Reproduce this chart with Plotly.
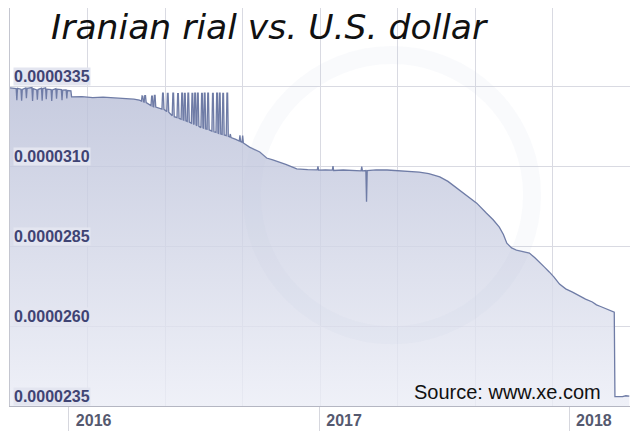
import plotly.graph_objects as go

# ---- data ----
dates = [
    "2015-10-07", "2015-10-16", "2015-10-17", "2015-10-18", "2015-10-23", "2015-10-24", "2015-10-25",
    "2015-10-30", "2015-10-31", "2015-11-01", "2015-11-08", "2015-11-09", "2015-11-10",
    "2015-11-15", "2015-11-16", "2015-11-17", "2015-11-22", "2015-11-23", "2015-11-24",
    "2015-11-28", "2015-11-29", "2015-11-30", "2015-12-06", "2015-12-07", "2015-12-08",
    "2015-12-13", "2015-12-14", "2015-12-15", "2015-12-21", "2015-12-22", "2015-12-23",
    "2015-12-28", "2015-12-29", "2015-12-30", "2016-01-04", "2016-01-05", "2016-01-20",
    "2016-02-05", "2016-02-20", "2016-03-05", "2016-03-22", "2016-04-05", "2016-04-13",
    "2016-04-16", "2016-04-17", "2016-04-18", "2016-04-19",
    "2016-04-20", "2016-04-21", "2016-04-22", "2016-04-23",
    "2016-04-30", "2016-05-01", "2016-05-02", "2016-05-03",
    "2016-05-04", "2016-05-05", "2016-05-06", "2016-05-07",
    "2016-05-16", "2016-05-17", "2016-05-18", "2016-05-19",
    "2016-05-23", "2016-05-24", "2016-05-25", "2016-05-26",
    "2016-05-31", "2016-06-01", "2016-06-02", "2016-06-03",
    "2016-06-07", "2016-06-08", "2016-06-09", "2016-06-10",
    "2016-06-13", "2016-06-14", "2016-06-15", "2016-06-16",
    "2016-06-17", "2016-06-18", "2016-06-19", "2016-06-20",
    "2016-06-22", "2016-06-23", "2016-06-24", "2016-06-25",
    "2016-06-28", "2016-06-29", "2016-06-30", "2016-07-01",
    "2016-07-02", "2016-07-03", "2016-07-04", "2016-07-05",
    "2016-07-06", "2016-07-07", "2016-07-08", "2016-07-09",
    "2016-07-12", "2016-07-13", "2016-07-14", "2016-07-15",
    "2016-07-16", "2016-07-17", "2016-07-18", "2016-07-19",
    "2016-07-21", "2016-07-22", "2016-07-23", "2016-07-24",
    "2016-07-28", "2016-07-29", "2016-07-30", "2016-07-31",
    "2016-08-03", "2016-08-04", "2016-08-05", "2016-08-06",
    "2016-08-07", "2016-08-08", "2016-08-09", "2016-08-10",
    "2016-08-12", "2016-08-13", "2016-08-14", "2016-08-15",
    "2016-08-18", "2016-08-19", "2016-08-20", "2016-08-21",
    "2016-08-23", "2016-08-24", "2016-08-25", "2016-09-01", "2016-09-06", "2016-09-07",
    "2016-09-08", "2016-09-10", "2016-09-11", "2016-09-12", "2016-09-21", "2016-10-06",
    "2016-10-16", "2016-10-25", "2016-11-04", "2016-11-13", "2016-11-22", "2016-11-29",
    "2016-12-15", "2016-12-29", "2016-12-30", "2016-12-31", "2017-01-10", "2017-01-20",
    "2017-01-21", "2017-01-22", "2017-02-05", "2017-02-20", "2017-03-03", "2017-03-04",
    "2017-03-05", "2017-03-10", "2017-03-11", "2017-03-12", "2017-03-25", "2017-04-10",
    "2017-04-25", "2017-05-12", "2017-05-27", "2017-06-10", "2017-06-26", "2017-07-08",
    "2017-07-21", "2017-08-05", "2017-08-19", "2017-09-02", "2017-09-12", "2017-09-21",
    "2017-09-27", "2017-10-02", "2017-10-09", "2017-10-16", "2017-10-25", "2017-11-04",
    "2017-11-12", "2017-11-19", "2017-11-26", "2017-12-03", "2017-12-10", "2017-12-18",
    "2017-12-27", "2018-01-06", "2018-01-16", "2018-01-25", "2018-02-04", "2018-02-10",
    "2018-02-16", "2018-02-22", "2018-03-01", "2018-03-06", "2018-03-08", "2018-03-09",
    "2018-03-20", "2018-03-25", "2018-03-30",
]
rates = [
    3.344e-05, 3.342e-05, 3.306e-05, 3.343e-05, 3.340e-05, 3.304e-05, 3.339e-05,
    3.344e-05, 3.312e-05, 3.343e-05, 3.345e-05, 3.303e-05, 3.342e-05,
    3.338e-05, 3.307e-05, 3.339e-05, 3.343e-05, 3.304e-05, 3.342e-05,
    3.344e-05, 3.309e-05, 3.340e-05, 3.339e-05, 3.303e-05, 3.338e-05,
    3.342e-05, 3.310e-05, 3.340e-05, 3.339e-05, 3.306e-05, 3.337e-05,
    3.338e-05, 3.311e-05, 3.336e-05, 3.335e-05, 3.316e-05, 3.317e-05,
    3.314e-05, 3.315e-05, 3.313e-05, 3.312e-05, 3.309e-05, 3.306e-05,
    3.303e-05, 3.319e-05, 3.318e-05, 3.301e-05,
    3.300e-05, 3.320e-05, 3.320e-05, 3.298e-05,
    3.289e-05, 3.318e-05, 3.318e-05, 3.286e-05,
    3.285e-05, 3.321e-05, 3.321e-05, 3.284e-05,
    3.278e-05, 3.328e-05, 3.328e-05, 3.277e-05,
    3.270e-05, 3.327e-05, 3.327e-05, 3.268e-05,
    3.257e-05, 3.328e-05, 3.328e-05, 3.254e-05,
    3.251e-05, 3.326e-05, 3.326e-05, 3.249e-05,
    3.246e-05, 3.328e-05, 3.328e-05, 3.244e-05,
    3.243e-05, 3.327e-05, 3.327e-05, 3.241e-05,
    3.239e-05, 3.328e-05, 3.328e-05, 3.237e-05,
    3.234e-05, 3.327e-05, 3.327e-05, 3.232e-05,
    3.230e-05, 3.328e-05, 3.328e-05, 3.228e-05,
    3.226e-05, 3.328e-05, 3.328e-05, 3.224e-05,
    3.220e-05, 3.327e-05, 3.327e-05, 3.219e-05,
    3.218e-05, 3.328e-05, 3.328e-05, 3.216e-05,
    3.215e-05, 3.328e-05, 3.328e-05, 3.213e-05,
    3.209e-05, 3.327e-05, 3.327e-05, 3.207e-05,
    3.205e-05, 3.328e-05, 3.328e-05, 3.203e-05,
    3.202e-05, 3.328e-05, 3.328e-05, 3.200e-05,
    3.199e-05, 3.327e-05, 3.327e-05, 3.197e-05,
    3.195e-05, 3.328e-05, 3.328e-05, 3.193e-05,
    3.191e-05, 3.200e-05, 3.189e-05, 3.183e-05, 3.178e-05, 3.196e-05,
    3.176e-05, 3.174e-05, 3.195e-05, 3.172e-05, 3.159e-05, 3.144e-05,
    3.125e-05, 3.119e-05, 3.1125e-05, 3.105e-05, 3.097e-05, 3.091e-05,
    3.089e-05, 3.088e-05, 3.099e-05, 3.087e-05, 3.088e-05, 3.087e-05,
    3.100e-05, 3.086e-05, 3.0875e-05, 3.086e-05, 3.085e-05, 3.098e-05,
    3.085e-05, 3.086e-05, 2.988e-05, 3.086e-05, 3.088e-05, 3.0875e-05,
    3.086e-05, 3.084e-05, 3.081e-05, 3.076e-05, 3.066e-05, 3.052e-05,
    3.031e-05, 3.007e-05, 2.984e-05, 2.953e-05, 2.932e-05, 2.909e-05,
    2.886e-05, 2.859e-05, 2.844e-05, 2.8375e-05, 2.834e-05, 2.828e-05,
    2.813e-05, 2.797e-05, 2.784e-05, 2.769e-05, 2.753e-05, 2.731e-05,
    2.716e-05, 2.706e-05, 2.694e-05, 2.684e-05, 2.675e-05, 2.666e-05,
    2.661e-05, 2.656e-05, 2.649e-05, 2.644e-05, 2.643e-05, 2.379e-05,
    2.379e-05, 2.382e-05, 2.381e-05,
]

y_ticks = [0.0000235, 0.0000260, 0.0000285, 0.0000310, 0.0000335]
y_labels = ["0.0000235", "0.0000260", "0.0000285", "0.0000310", "0.0000335"]
x_ticks = ["2016-01-01", "2017-01-01", "2018-01-01"]
x_labels = ["2016", "2017", "2018"]
x_range = ["2015-10-07", "2018-03-31"]
y_range = [0.0000235, 0.000035938]
title_text = "Iranian rial vs. U.S. dollar"
source_text = "Source: www.xe.com"

# The page body has an 8 px default margin, so the figure is 632x432.
W, H = 632, 432

fig = go.Figure()

fig.add_trace(go.Scatter(
    x=dates, y=rates, mode="lines",
    line=dict(color="#6f7ca6", width=1.3),
    fill="tozeroy",
    fillgradient=dict(
        type="vertical",
        start=y_range[0], stop=0.0000335,
        colorscale=[[0, "rgba(235,237,246,0.8)"], [1, "rgba(184,190,215,0.8)"]],
    ),
    hoverinfo="skip", showlegend=False,
))
# helper trace to carry the evenly spaced vertical grid axis
fig.add_trace(go.Scatter(x=[0], y=[y_range[0]], xaxis="x2", mode="markers",
                         marker=dict(opacity=0), hoverinfo="skip", showlegend=False))

fig.update_layout(
    width=W, height=H,
    margin=dict(l=2, r=10, t=0, b=34, autoexpand=False),
    paper_bgcolor="white", plot_bgcolor="white",
    xaxis=dict(
        type="date", range=x_range, automargin=False,
        tickvals=x_ticks, ticktext=x_labels,
        ticks="outside", ticklen=24, tickcolor="#d6d7de", tickwidth=1,
        ticklabelposition="outside right", ticklabelshift=6,
        tickfont=dict(family="Liberation Sans", size=16, color="#55596f", weight="bold"),
        showgrid=False, zeroline=False,
        showline=True, linecolor="#b4b6c2", linewidth=1, mirror=True,
    ),
    xaxis2=dict(
        overlaying="x", range=[0, 8], dtick=1, showgrid=True, gridcolor="#d9dae2",
        showticklabels=False, ticks="", zeroline=False, showline=False, automargin=False,
    ),
    yaxis=dict(
        range=y_range, tickvals=y_ticks, showticklabels=False, ticks="", automargin=False,
        showgrid=True, gridcolor="#d9dae2", zeroline=False,
        showline=True, linecolor="#c4c6d0", linewidth=1,
    ),
    title=dict(
        text=title_text, x=43 / W, xanchor="left", xref="container",
        y=1 - 19 / H, yanchor="middle", yref="container", automargin=False,
        font=dict(family="DejaVu Sans", size=34.6, color="#111111", style="italic"),
    ),
    # faint watermark ring
    shapes=[dict(
        type="circle", xref="paper", yref="paper", layer="above",
        x0=0.39, x1=0.842, y0=0.178, y1=0.882,
        line=dict(color="rgba(190,195,218,0.09)", width=18),
    )],
)

for v, lab in zip(y_ticks, y_labels):
    fig.add_annotation(
        x=3 / 620, xref="paper", xanchor="left",
        y=v, yref="y", yanchor="bottom", yshift=0,
        text=lab, showarrow=False, bgcolor="#e3e5f0", borderpad=0,
        font=dict(family="Liberation Sans", size=16, color="#3f4474", weight="bold"),
    )

fig.add_annotation(
    x=1, xref="paper", xanchor="right", xshift=-27,
    y=0, yref="paper", yanchor="bottom", yshift=1,
    text=source_text, showarrow=False,
    font=dict(family="Liberation Sans", size=20, color="#111111"),
)

fig.write_html("out.html")
